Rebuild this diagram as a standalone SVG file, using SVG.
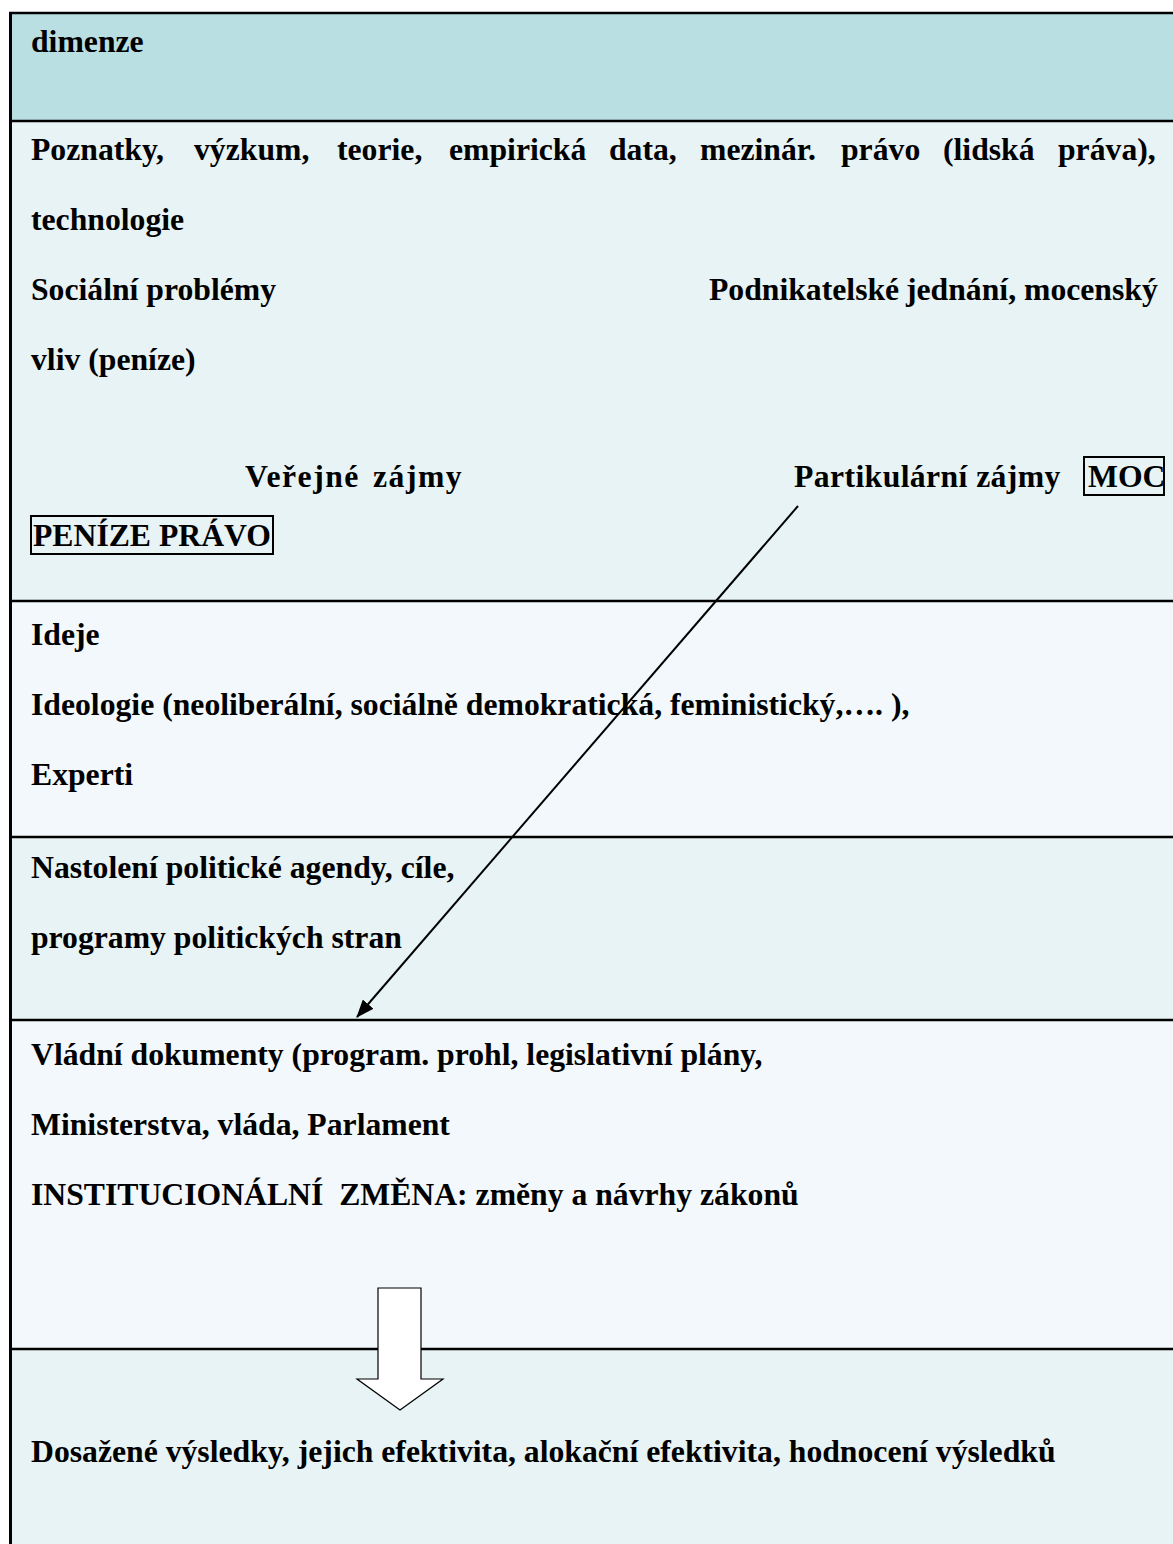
<svg xmlns="http://www.w3.org/2000/svg" width="1173" height="1544" viewBox="0 0 1173 1544">
<style>
text{font-family:"Liberation Serif","Times New Roman",serif;font-weight:bold;font-size:31.7px;fill:#000}
.r1{fill:#b9dfe3}.ra{fill:#e7f3f5}.rb{fill:#f2f8fb}
.sep{stroke:#000;stroke-width:2.5}
.box{fill:none;stroke:#000;stroke-width:2}
</style>
<defs>
<marker id="ah" markerWidth="18" markerHeight="14" refX="17" refY="7" orient="auto" markerUnits="userSpaceOnUse">
<path d="M0,0 L18,7 L0,14 Z" fill="#000"/>
</marker>
</defs>
<rect width="1173" height="1544" fill="#fff"/>
<g id="row-dimenze">
<rect class="r1" x="11" y="13" width="1162" height="108"/>
<text x="31" y="52">dimenze</text>
</g>
<g id="row-poznatky">
<rect class="ra" x="11" y="121" width="1162" height="480"/>
<text y="160"><tspan x="31">Poznatky,</tspan><tspan x="194">výzkum,</tspan><tspan x="337">teorie,</tspan><tspan x="449">empirická</tspan><tspan x="609">data,</tspan><tspan x="700">mezinár.</tspan><tspan x="841">právo</tspan><tspan x="943">(lidská</tspan><tspan x="1058">práva),</tspan></text>
<text x="31" y="230">technologie</text>
<text y="300"><tspan x="31">Sociální problémy</tspan><tspan x="709">Podnikatelské</tspan><tspan x="906">jednání,</tspan><tspan x="1024">mocenský</tspan></text>
<text x="31" y="370">vliv (peníze)</text>
<text y="487" letter-spacing="1.5"><tspan x="245">Veřejné</tspan><tspan x="373">zájmy</tspan></text>
<text x="794" y="487" letter-spacing="0.4">Partikulární zájmy</text>
<text x="1088" y="487">MOC</text>
<rect class="box" x="1084" y="457" width="80" height="38"/>
<text x="33" y="546">PENÍZE PRÁVO</text>
<rect class="box" x="31" y="516" width="242" height="38"/>
</g>
<g id="row-ideje">
<rect class="rb" x="11" y="601" width="1162" height="236"/>
<text x="31" y="645">Ideje</text>
<text x="31" y="715">Ideologie (neoliberální, sociálně demokratická, feministický,…. ),</text>
<text x="31" y="785">Experti</text>
</g>
<g id="row-agenda">
<rect class="ra" x="11" y="837" width="1162" height="183"/>
<text x="31" y="878">Nastolení politické agendy, cíle,</text>
<text x="31" y="948">programy politických stran</text>
</g>
<g id="row-vlada">
<rect class="rb" x="11" y="1020" width="1162" height="329"/>
<text x="31" y="1065">Vládní dokumenty (program. prohl, legislativní plány,</text>
<text x="31" y="1135">Ministerstva, vláda, Parlament</text>
<text x="31" y="1205" xml:space="preserve">INSTITUCIONÁLNÍ  ZMĚNA: změny a návrhy zákonů</text>
</g>
<g id="row-vysledky">
<rect class="ra" x="11" y="1349" width="1162" height="195"/>
<text x="31" y="1462">Dosažené výsledky, jejich efektivita, alokační efektivita, hodnocení výsledků</text>
</g>
<g id="borders">
<line class="sep" x1="10.5" y1="121" x2="1173" y2="121"/>
<line class="sep" x1="10.5" y1="601" x2="1173" y2="601"/>
<line class="sep" x1="10.5" y1="837" x2="1173" y2="837"/>
<line class="sep" x1="10.5" y1="1020" x2="1173" y2="1020"/>
<line class="sep" x1="10.5" y1="1349" x2="1173" y2="1349"/>
<line stroke="#000" stroke-width="2.5" x1="9" y1="13" x2="1173" y2="13"/>
<line stroke="#000" stroke-width="3" x1="10.5" y1="12" x2="10.5" y2="1544"/>
</g>
<g id="connectors">
<line x1="798" y1="506" x2="357" y2="1017" stroke="#000" stroke-width="2" marker-end="url(#ah)"/>
<path d="M378,1288 L421,1288 L421,1379 L443,1379 L400,1410 L357,1379 L378,1379 Z" fill="#fff" stroke="#000" stroke-width="1.2"/>
</g>
</svg>
